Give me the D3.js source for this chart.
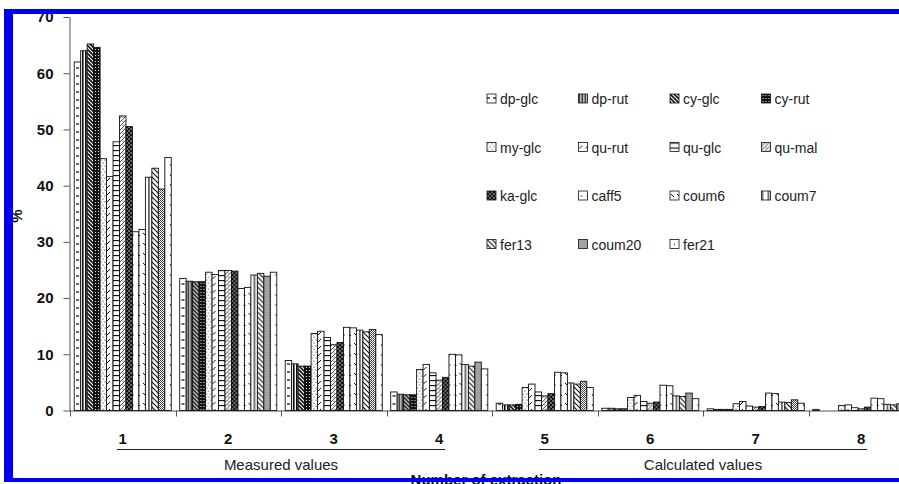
<!DOCTYPE html>
<html lang="en">
<head>
<meta charset="UTF-8">
<title>Number of extraction</title>
<style>
  body { margin: 0; background: #fff; }
  svg { display: block; font-family: "Liberation Sans", Arial, sans-serif; }
  .axis path, .axis line { stroke: #555; }
  .axis text { font-weight: bold; font-size: 15px; fill: #111; }
  .bar { stroke: #111; stroke-width: 0.9px; }
  .legend text { font-size: 14px; fill: #222; }
</style>
</head>
<body>
<div id="chart"></div>
<script src="https://d3js.org/d3.v7.min.js"></script>
<script>
// extraction numbers (groups)
const extractions = ['1', '2', '3', '4', '5', '6', '7', '8'];
const seriesNames = ['dp-glc', 'dp-rut', 'cy-glc', 'cy-rut', 'my-glc', 'qu-rut', 'qu-glc', 'qu-mal',
                     'ka-glc', 'caff5', 'coum6', 'coum7', 'fer13', 'coum20', 'fer21'];
const yTicks = [0, 10, 20, 30, 40, 50, 60, 70];

// % per series, one value per extraction 1..8
const dpGlc  = [62.0, 23.5, 8.9, 3.3, 1.3, 0.4, 0.3, 0.2];
const dpRut  = [64.0, 23.0, 8.3, 2.9, 1.0, 0.4, 0.2, 0.0];
const cyGlc  = [65.2, 22.9, 7.9, 2.8, 1.0, 0.3, 0.2, 0.0];
const cyRut  = [64.6, 22.9, 7.9, 2.8, 1.1, 0.3, 0.2, 0.0];
const myGlc  = [44.8, 24.6, 13.7, 7.3, 4.1, 2.3, 1.2, 0.9];
const quRut  = [41.6, 24.2, 14.1, 8.2, 4.7, 2.7, 1.6, 1.0];
const quGlc  = [47.8, 24.9, 13.0, 6.7, 3.3, 1.6, 0.8, 0.5];
const quMal  = [52.4, 24.9, 11.7, 5.4, 2.6, 1.3, 0.6, 0.3];
const kaGlc  = [50.5, 24.8, 12.1, 5.9, 3.0, 1.5, 0.7, 0.6];
const caff5  = [31.8, 21.7, 14.8, 10.0, 6.8, 4.5, 3.1, 2.2];
const coum6  = [32.2, 21.9, 14.7, 9.9, 6.7, 4.4, 3.0, 2.1];
const coum7  = [41.5, 24.1, 14.3, 8.2, 4.9, 2.6, 1.5, 1.1];
const fer13  = [43.1, 24.4, 14.0, 7.9, 4.7, 2.5, 1.4, 1.0];
const coum20 = [39.4, 23.9, 14.4, 8.6, 5.2, 3.1, 1.9, 1.2];
const fer21  = [45.0, 24.6, 13.5, 7.4, 4.1, 2.1, 1.3, 0.9];

const seriesValues = [dpGlc, dpRut, cyGlc, cyRut, myGlc, quRut, quGlc, quMal,
                      kaGlc, caff5, coum6, coum7, fer13, coum20, fer21];

const width = 899, height = 484;
const svg = d3.select('#chart').append('svg')
    .attr('width', width)
    .attr('height', height);

// hatch patterns standing in for the spreadsheet fills
const defs = svg.append('defs');
function pattern(id, w, h, bg, draw) {
    const p = defs.append('pattern')
        .attr('id', id)
        .attr('patternUnits', 'userSpaceOnUse')
        .attr('width', w).attr('height', h);
    p.append('rect').attr('width', w).attr('height', h).attr('fill', bg);
    draw(p);
}
const line = (p, d, sw, c) => p.append('path').attr('d', d).attr('stroke', c || '#111')
    .attr('stroke-width', sw).attr('fill', 'none');
const dot = (p, x, y, r, c) => p.append('circle').attr('cx', x).attr('cy', y).attr('r', r).attr('fill', c || '#111');
const box = (p, x, y, w, h, c) => p.append('rect').attr('x', x).attr('y', y).attr('width', w).attr('height', h).attr('fill', c || '#111');

pattern('p0', 6, 8, '#fff', p => line(p, 'M0,4 h3', 1.3));
pattern('p1', 3, 3, '#fff', p => box(p, 0, 0, 1.6, 3));
pattern('p2', 4, 4, '#fff', p => line(p, 'M-1,-1 L5,5 M-1,3 L1,5 M3,-1 L5,1', 1.6));
pattern('p3', 3, 3, '#111', p => { dot(p, 1.5, 1.5, 0.6, '#fff'); });
pattern('p4', 4, 6, '#fff', p => { dot(p, 1, 1, 0.6); dot(p, 3, 4, 0.6); });
pattern('p5', 6, 7, '#fff', p => line(p, 'M1,6 L4,3', 1));
pattern('p6', 6, 5, '#fff', p => line(p, 'M0,0.5 H6', 1.3));
pattern('p7', 4, 4, '#fff', p => { line(p, 'M0,4 L4,0 M-1,1 L1,-1 M3,5 L5,3', 0.9, '#444'); dot(p, 1, 1, 0.5); });
pattern('p8', 4, 4, '#111', p => { dot(p, 1, 1, 0.7, '#fff'); dot(p, 3, 3, 0.7, '#fff'); });
pattern('p9', 6, 10, '#fff', p => dot(p, 3, 5, 0.7));
pattern('p10', 6, 10, '#fff', p => line(p, 'M1,3 L4,6', 1));
pattern('p11', 6, 4, '#fff', p => box(p, 0, 0, 1.8, 4, '#666'));
pattern('p12', 5, 5, '#fff', p => line(p, 'M0,0 L5,5 M-1,4 L1,6 M4,-1 L6,1', 1.1));
pattern('p13', 2, 2, '#fff', p => { box(p, 0, 0, 1, 1, '#333'); box(p, 1, 1, 1, 1, '#555'); });
pattern('p14', 6, 10, '#fff', p => dot(p, 4.5, 5, 0.7));

const x0 = d3.scaleBand().domain(extractions).range([70, 914]);
const x1 = d3.scaleBand().domain(seriesNames).range([0, x0.bandwidth()]).paddingOuter(0.65);
const y = d3.scaleLinear().domain([0, 70]).range([410.5, 17]);

// y axis
svg.append('g')
    .attr('class', 'axis')
    .attr('transform', 'translate(69.5,0)')
    .call(d3.axisLeft(y).tickValues(yTicks).tickSize(6).tickPadding(10).tickSizeOuter(0));

// x axis: baseline with ticks between groups
const xAxis = svg.append('g').attr('class', 'axis');
xAxis.append('line')
    .attr('x1', 69.5).attr('x2', 914)
    .attr('y1', y(0) + 0.5).attr('y2', y(0) + 0.5);
xAxis.selectAll('.gtick')
    .data(extractions)
    .enter().append('line')
    .attr('class', 'gtick')
    .attr('x1', d => Math.round(x0(d)) + 0.5).attr('x2', d => Math.round(x0(d)) + 0.5)
    .attr('y1', y(0)).attr('y2', y(0) + 6);

// bars
const groups = svg.append('g')
    .selectAll('g')
    .data(extractions)
    .enter().append('g')
    .attr('transform', d => `translate(${x0(d)},0)`);

groups.selectAll('rect')
    .data((d, gi) => seriesNames.map((s, si) => ({ s, si, v: seriesValues[si][gi] })))
    .enter().append('rect')
    .attr('class', 'bar')
    .attr('x', d => x1(d.s))
    .attr('width', x1.bandwidth())
    .attr('y', d => y(d.v))
    .attr('height', d => y(0) - y(d.v))
    .attr('fill', d => `url(#p${d.si})`);

// category labels
svg.append('g')
    .selectAll('text')
    .data(extractions)
    .enter().append('text')
    .attr('x', d => x0(d) + x0.bandwidth() / 2)
    .attr('y', 444)
    .attr('text-anchor', 'middle')
    .style('font-weight', 'bold')
    .style('font-size', '15px')
    .attr('fill', '#111')
    .text(d => d);

// grouping brackets
const brackets = [
    { label: 'Measured values', from: '1', to: '4' },
    { label: 'Calculated values', from: '5', to: '8' }
];
brackets.forEach(b => {
    const xa = x0(b.from) + x0.bandwidth() / 2 - 6;
    const xb = x0(b.to) + x0.bandwidth() / 2 + 6;
    svg.append('line')
        .attr('x1', xa).attr('x2', xb)
        .attr('y1', 449.5).attr('y2', 449.5)
        .attr('stroke', '#222').attr('stroke-width', 1.2);
    svg.append('text')
        .attr('x', (xa + xb) / 2)
        .attr('y', 470)
        .attr('text-anchor', 'middle')
        .style('font-size', '15px')
        .attr('fill', '#222')
        .text(b.label);
});

svg.append('text')
    .attr('x', 486)
    .attr('y', 485)
    .attr('text-anchor', 'middle')
    .style('font-weight', 'bold')
    .style('font-size', '15px')
    .attr('fill', '#111')
    .text('Number of extraction');

svg.append('text')
    .attr('transform', 'translate(22,216) rotate(-90)')
    .attr('text-anchor', 'middle')
    .style('font-weight', 'bold')
    .style('font-size', '15px')
    .attr('fill', '#111')
    .text('%');

// legend, 4 columns
const legend = svg.append('g').attr('class', 'legend');
const legItem = legend.selectAll('g')
    .data(seriesNames)
    .enter().append('g')
    .attr('transform', (d, i) => `translate(${487 + (i % 4) * 91.5},${94 + Math.floor(i / 4) * 48.5})`);
legItem.append('rect')
    .attr('width', 9).attr('height', 9)
    .attr('fill', (d, i) => `url(#p${i})`)
    .attr('stroke', '#111').attr('stroke-width', 0.8);
legItem.append('text')
    .attr('x', 13)
    .attr('y', 10)
    .text(d => d);

// blue frame drawn last
const frame = svg.append('g').attr('fill', '#0000f0');
frame.append('rect').attr('x', 4).attr('y', 9).attr('width', 9).attr('height', 473);
frame.append('rect').attr('x', 4).attr('y', 9).attr('width', 895).attr('height', 5);
frame.append('rect').attr('x', 4).attr('y', 478).attr('width', 895).attr('height', 4);
</script>
</body>
</html>
